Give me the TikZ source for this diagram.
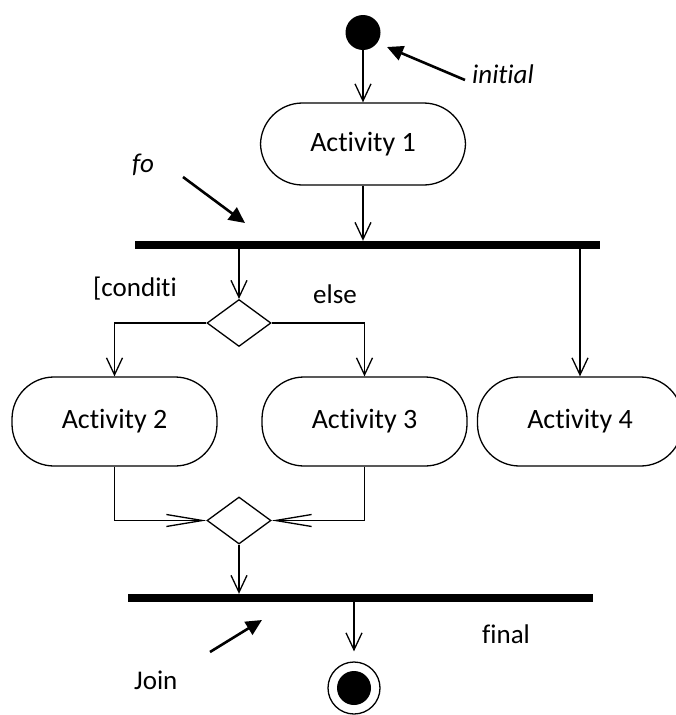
\documentclass[tikz,border=0pt]{standalone}
\usepackage{fontspec}
\setmainfont{Carlito}[RawFeature={-liga;-clig;-calt;-dlig}]
\usetikzlibrary{arrows.meta,shapes.geometric}
\tikzset{
  actv/.style={draw,line width=1.3pt,rounded corners=42pt,minimum width=205pt,minimum height=89pt,inner sep=0pt,font=\fontsize{28}{34}\selectfont},
  bar/.style={fill=black,minimum width=465pt,minimum height=8pt,inner sep=0pt},
  choice/.style={diamond,draw,line width=1.3pt,minimum width=64pt,minimum height=47pt,inner sep=0pt},
  lbl/.style={anchor=base west,inner sep=0pt,font=\fontsize{27}{32}\selectfont},
  flow/.style={-{Straight Barb[length=17pt,width=16pt]},line width=1.3pt},
  mflow/.style={-{Straight Barb[length=36pt,width=12pt]},line width=1.3pt},
  pointer/.style={-{Triangle[length=16pt,width=15pt]},line width=2.6pt}
}
\begin{document}
\begin{tikzpicture}[x=1pt,y=-1pt]
  \useasboundingbox (0,0) rectangle (675,715);
  \node[circle,fill=black,minimum size=35pt,inner sep=0pt] (init) at (363,32.5) {};
  \node[actv,minimum height=82pt] (act1) at (363,144) {Activity 1};
  \node[bar] (fork) at (367.5,245) {};
  \node[choice] (dec) at (239,323) {};
  \node[actv] (act2) at (114.5,421.5) {Activity 2};
  \node[actv] (act3) at (364.5,421.5) {Activity 3};
  \node[actv] (act4) at (580,421.5) {Activity 4};
  \node[choice] (merge) at (239,520.5) {};
  \node[bar] (join) at (360.5,598) {};
  \node[circle,draw,line width=1.3pt,minimum size=52pt,inner sep=0pt] (final) at (354,688) {};
  \node[circle,fill=black,minimum size=34pt,inner sep=0pt] (finaldot) at (final.center) {};

  \draw[flow] (init.south) -- (act1.north);
  \draw[flow] (act1.south) -- (act1.south |- fork.north);
  \draw[flow] (fork.south -| dec.north) -- (dec.north);
  \draw[flow] (dec.west) -| (act2.north);
  \draw[flow] (dec.east) -| (act3.north);
  \draw[flow] (fork.south -| act4.north) -- (act4.north);
  \draw[mflow] (act2.south) |- (merge.west);
  \draw[mflow] (act3.south) |- (merge.east);
  \draw[flow] (merge.south) -- (merge.south |- join.north);
  \draw[flow,shorten >=10pt] (join.south -| final.north) -- (final.north);

  \node[lbl,font=\fontsize{27}{32}\selectfont\itshape] (initlbl) at (472,83) {initial};
  \node[lbl,font=\fontsize{27}{32}\selectfont\itshape] (folbl) at (132,172) {fo};
  \node[lbl] (condlbl) at (93,296) {[conditi};
  \node[lbl] (elselbl) at (313,303) {else};
  \node[lbl] (finallbl) at (482,643) {final};
  \node[lbl] (joinlbl) at (134,689) {Join};

  \coordinate (initTail) at (465,80);
  \coordinate (initTip) at (387,47);
  \coordinate (foTail) at (183,177);
  \coordinate (foTip) at (245,223);
  \coordinate (joinTail) at (210,652);
  \coordinate (joinTip) at (262,620);
  \draw[pointer] (initTail) -- (initTip);
  \draw[pointer] (foTail) -- (foTip);
  \draw[pointer] (joinTail) -- (joinTip);
\end{tikzpicture}
\end{document}
